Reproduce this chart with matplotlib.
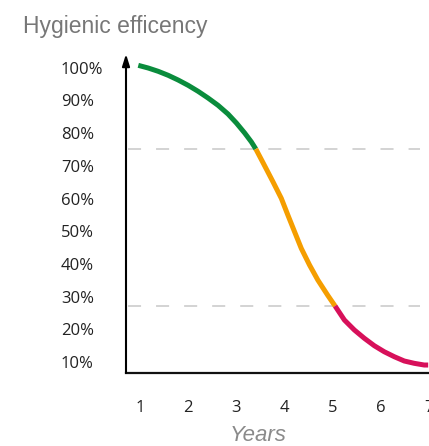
import matplotlib
matplotlib.use("Agg")
import matplotlib.pyplot as plt

# curve (years, hygienic efficiency %)
years = [0.965, 1.172, 1.379, 1.586, 1.793, 2.000, 2.207, 2.414, 2.621, 2.828,
         3.002, 3.174, 3.313, 3.405, 3.553, 3.760, 3.934, 4.070, 4.209, 4.348,
         4.520, 4.692, 4.898, 5.050, 5.244, 5.451, 5.658, 5.865, 6.070, 6.280,
         6.487, 6.694, 6.901, 6.983]
efficiency = [100.73, 99.91, 98.90, 97.68, 96.24, 94.62, 92.78, 90.73, 88.50, 85.84,
              83.09, 80.03, 77.30, 75.14, 71.00, 65.14, 60.06, 54.95, 49.85, 44.77,
              39.66, 35.08, 30.40, 27.13, 22.84, 19.79, 17.25, 14.98, 13.15, 11.62,
              10.31, 9.60, 9.08, 9.08]
thresholds = [75.14, 27.13]
year_ticks = [1, 2, 3, 4, 5, 6, 7]
pct_ticks = [10, 20, 30, 40, 50, 60, 70, 80, 90, 100]
pct_labels = [f"{p}%" for p in pct_ticks]

GREEN = "#0a8c3c"
ORANGE = "#f59e00"
RED = "#d7105a"

plt.rcParams["lines.scale_dashes"] = False

fig = plt.figure(figsize=(4.29, 4.46), dpi=100)
ax = fig.add_axes([126 / 429, 73 / 446, 303 / 429, 319 / 446])
ax.set_xlim(0.710, 6.983)
ax.set_ylim(6.64, 104.2)

for t in thresholds:
    ax.axhline(t, xmin=0.005, xmax=0.97, color="#cccccc", lw=1.2,
               dashes=(9.4, 10.8), zorder=1)

# split the curve where it crosses the thresholds
i_hi = efficiency.index(thresholds[0])
i_lo = efficiency.index(thresholds[1])
segs = [
    (years[: i_hi + 1], efficiency[: i_hi + 1], GREEN),
    (years[i_hi: i_lo + 1], efficiency[i_hi: i_lo + 1], ORANGE),
    (years[i_lo:], efficiency[i_lo:], RED),
]
for xs, ys, c in segs:
    ax.plot(xs, ys, color=c, lw=3.6, solid_capstyle="butt",
            solid_joinstyle="round", zorder=3)

for side in ("top", "right", "left"):
    ax.spines[side].set_visible(False)
ax.spines["bottom"].set_linewidth(1.6)
ax.spines["bottom"].set_color("#111111")

ax.annotate("", xy=(0, 1.0), xycoords="axes fraction", xytext=(0, 0),
            textcoords="axes fraction",
            arrowprops=dict(arrowstyle="-|>,head_length=0.7,head_width=0.22",
                            color="black", lw=1.5, shrinkA=0, shrinkB=0))

ax.set_yticks(pct_ticks)
ax.set_yticklabels(pct_labels, fontfamily="Open Sans", fontsize=12, color="#222222")
ax.tick_params(axis="y", length=0, pad=46.8)
for lab in ax.get_yticklabels():
    lab.set_horizontalalignment("left")

ax.set_xticks(year_ticks)
ax.set_xticklabels([str(y) for y in year_ticks], fontfamily="Open Sans",
                   fontsize=12, color="#222222")
ax.tick_params(axis="x", length=0, pad=19.5)

fig.text(23 / 429, 1 - 33 / 446, "Hygienic efficency", fontfamily="Liberation Sans",
         fontsize=16.5, color="#777777", va="baseline", ha="left")
fig.text(258 / 429, 1 - 441 / 446, "Years", fontfamily="Liberation Sans",
         fontsize=16, style="italic", color="#8a8a8a", va="baseline", ha="center")

fig.savefig("out.png", dpi=100)
